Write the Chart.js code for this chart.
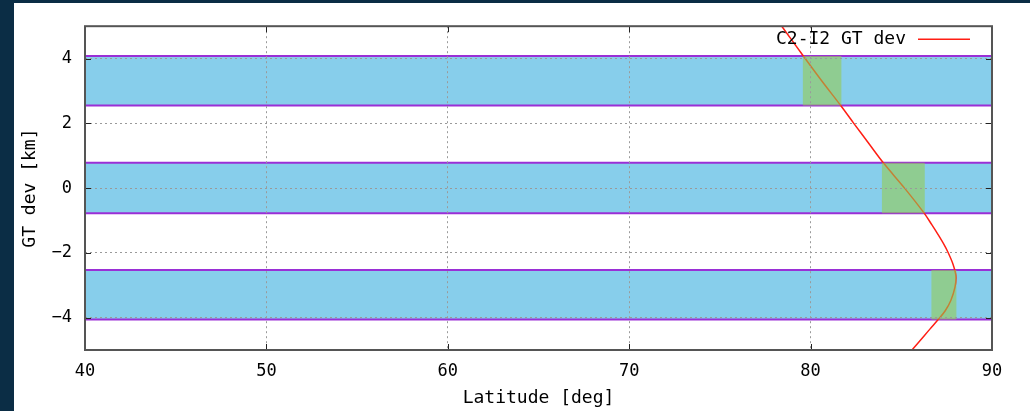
<!DOCTYPE html>
<html>
<head>
<meta charset="utf-8">
<script src="https://cdn.jsdelivr.net/npm/chart.js@4.4.1/dist/chart.umd.min.js"></script>
<style>
  html, body { margin: 0; padding: 0; width: 1030px; height: 411px; overflow: hidden; background: #0b2d45; }
  #panel { position: absolute; left: 14px; top: 3px; width: 1016px; height: 408px; background: #fff; }
</style>
</head>
<body>
<div id="panel"><canvas id="gt-chart" width="1016" height="408"></canvas></div>
<script>
// Tick positions
const xTicks = [40, 50, 60, 70, 80, 90];
const yTicks = [-4, -2, 0, 2, 4];

// Blue bands (GT dev km)
const bandLow  = [2.55, -0.78, -4.06];
const bandHigh = [4.08, 0.78, -2.53];

// Green overlap boxes (latitude deg), one per band
const greenFrom = [79.56, 83.92, 86.65];
const greenTo   = [81.71, 86.30, 88.05];

// C2-I2 GT dev curve
const curveLabel = 'C2-I2 GT dev';
const devLat = [78.0, 78.41, 79.60, 80.63, 81.66, 82.38, 83.18, 84.01, 85.18, 86.27, 86.68, 87.02, 87.35, 87.58, 87.85, 88.01, 87.96, 87.73, 87.43, 87.08, 86.60, 85.66, 85.25];
const devKm  = [5.3, 5.0, 4.08, 3.3, 2.55, 2.0, 1.4, 0.78, 0.0, -0.78, -1.13, -1.43, -1.74, -1.99, -2.35, -2.71, -3.06, -3.47, -3.78, -4.03, -4.34, -4.95, -5.2];

const purple = '#9a2fd6';
const sky = '#87ceeb';
const green = 'rgba(150, 204, 80, 0.58)';
const red = '#ff1e14';
const fontFamily = '"DejaVu Sans Mono", monospace';

Chart.defaults.font.family = fontFamily;
Chart.defaults.color = '#000';

// Datasets: first in the list is drawn on top
const datasets = [];

greenFrom.forEach((x0, i) => {
  datasets.push({
    label: 'overlap',
    data: [{ x: x0, y: bandHigh[i] }, { x: greenTo[i], y: bandHigh[i] }],
    borderWidth: 0,
    pointRadius: 0,
    backgroundColor: green,
    fill: { target: { value: bandLow[i] } }
  });
});

datasets.push({
  label: curveLabel,
  data: devLat.map((x, i) => ({ x: x, y: devKm[i] })),
  borderColor: red,
  borderWidth: 1.5,
  pointRadius: 0,
  tension: 0.35,
  fill: false
});

bandLow.forEach(lo => {
  datasets.push({
    label: 'band edge',
    data: [{ x: 40, y: lo }, { x: 90, y: lo }],
    borderColor: purple,
    borderWidth: 2,
    pointRadius: 0,
    fill: false
  });
});

bandHigh.forEach((hi, i) => {
  datasets.push({
    label: 'band',
    data: [{ x: 40, y: hi }, { x: 90, y: hi }],
    borderColor: purple,
    borderWidth: 2,
    pointRadius: 0,
    backgroundColor: sky,
    fill: { target: { value: bandLow[i] } }
  });
});

// Frame, inward ticks and the in-plot legend (gnuplot look)
const framePlugin = {
  id: 'frame',
  afterDraw(chart) {
    const { ctx, chartArea: a, scales: { x, y } } = chart;
    ctx.save();
    ctx.strokeStyle = '#222';
    ctx.lineWidth = 1;
    ctx.beginPath();
    x.ticks.forEach(t => {
      const px = Math.round(x.getPixelForValue(t.value)) + 0.5;
      ctx.moveTo(px, a.bottom); ctx.lineTo(px, a.bottom - 6);
      ctx.moveTo(px, a.top); ctx.lineTo(px, a.top + 6);
    });
    y.ticks.forEach(t => {
      const py = Math.round(y.getPixelForValue(t.value)) + 0.5;
      ctx.moveTo(a.left, py); ctx.lineTo(a.left + 6, py);
      ctx.moveTo(a.right, py); ctx.lineTo(a.right - 6, py);
    });
    ctx.stroke();

    ctx.strokeStyle = '#555';
    ctx.lineWidth = 2;
    ctx.strokeRect(a.left, a.top, a.right - a.left, a.bottom - a.top);

    const ds = chart.data.datasets.find(d => d.label === curveLabel);
    const ly = a.top + 13;
    ctx.font = '18px ' + fontFamily;
    ctx.fillStyle = '#000';
    ctx.textAlign = 'right';
    ctx.textBaseline = 'middle';
    ctx.fillText(ds.label, a.right - 86, ly);
    ctx.strokeStyle = ds.borderColor;
    ctx.lineWidth = 1.5;
    ctx.beginPath();
    ctx.moveTo(a.right - 74, ly);
    ctx.lineTo(a.right - 22, ly);
    ctx.stroke();
    ctx.restore();
  }
};

const ctx = document.getElementById('gt-chart').getContext('2d');
const chart = new Chart(ctx, {
  type: 'line',
  data: { datasets: datasets },
  plugins: [framePlugin],
  options: {
    responsive: false,
    animation: false,
    layout: { padding: { left: 0, right: 38, top: 20, bottom: 0 } },
    plugins: {
      legend: { display: false },
      tooltip: { enabled: false }
    },
    scales: {
      x: {
        type: 'linear',
        min: 40,
        max: 90,
        afterBuildTicks: axis => { axis.ticks = xTicks.map(v => ({ value: v })); },
        afterFit: axis => { axis.height = 61; },
        ticks: { padding: 11, maxRotation: 0, font: { size: 17 }, color: '#000' },
        grid: { color: '#9a9a9a', lineWidth: 1, drawTicks: false, z: 1 },
        border: { display: false, dash: [2, 3] },
        title: {
          display: true,
          text: 'Latitude [deg]',
          font: { size: 18 },
          color: '#000',
          padding: { top: 0, bottom: 2 }
        }
      },
      y: {
        type: 'linear',
        min: -5,
        max: 5,
        afterBuildTicks: axis => { axis.ticks = yTicks.map(v => ({ value: v })); },
        afterFit: axis => { axis.width = 71; },
        ticks: {
          padding: 13,
          font: { size: 17 },
          color: '#000',
          callback: v => String(v).replace('-', '\u2212')
        },
        grid: { color: '#9a9a9a', lineWidth: 1, drawTicks: false, z: 1 },
        border: { display: false, dash: [2, 3] },
        title: {
          display: true,
          text: 'GT dev [km]',
          font: { size: 18 },
          color: '#000',
          padding: { top: 6, bottom: 0 }
        }
      }
    }
  }
});
</script>
</body>
</html>
